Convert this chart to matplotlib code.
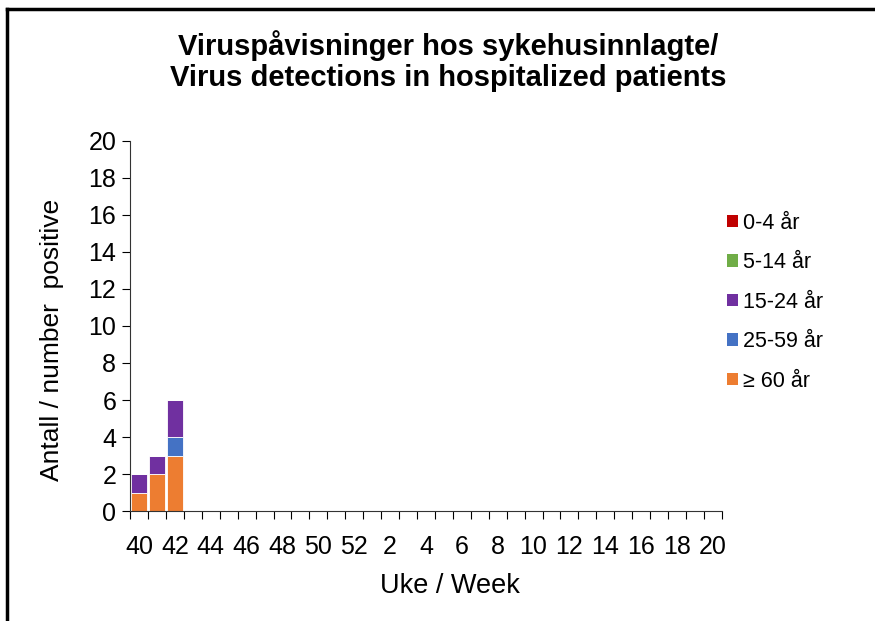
import numpy as np
from matplotlib import pyplot as plt
from matplotlib.lines import Line2D
from matplotlib.patches import Patch

plt.rcParams['font.family'] = ['Liberation Sans', 'DejaVu Sans']

weeks = list(range(40, 53)) + list(range(1, 21))
age_groups = ['0-4 år', '5-14 år', '15-24 år', '25-59 år', '≥ 60 år']
colors = ['#C00000', '#70AD47', '#7030A0', '#4472C4', '#ED7D31']

n = len(weeks)
age_0_4 = [0] * n
age_5_14 = [0] * n
age_15_24 = [1, 1, 2] + [0] * (n - 3)
age_25_59 = [0, 0, 1] + [0] * (n - 3)
age_60 = [1, 2, 3] + [0] * (n - 3)

series = [age_0_4, age_5_14, age_15_24, age_25_59, age_60]

fig = plt.figure(figsize=(8.75, 6.21), dpi=100)
ax = fig.add_axes([0.1486, 0.1771, 0.6764, 0.5959])

x = np.arange(n)
bottom = np.zeros(n)
# stack from the bottom: oldest group first
for vals, col in zip(series[::-1], colors[::-1]):
    vals = np.array(vals)
    ax.bar(x, vals, width=0.9, bottom=bottom, color=col, edgecolor='white', linewidth=0.6)
    bottom += vals

ax.set_xlim(-0.5, n - 0.5)
ax.set_ylim(0, 20)
ax.set_yticks(range(0, 21, 2))
ax.tick_params(axis='y', labelsize=18, length=6, direction='out', pad=4)

# tick marks between categories, labels on every second week
ax.set_xticks(np.arange(-0.5, n, 1))
ax.set_xticklabels([])
ax.set_xticks(x[::2], [str(w) for w in weeks[::2]], minor=True)
ax.tick_params(axis='x', which='major', length=6, direction='out')
ax.tick_params(axis='x', which='minor', length=0, labelsize=18, pad=17)

for s in ['top', 'right']:
    ax.spines[s].set_visible(False)
for s in ['left', 'bottom']:
    ax.spines[s].set_color('#333333')

ax.set_ylabel('Antall / number  positive', fontsize=19)
ax.yaxis.set_label_coords(-0.111, 0.462)
ax.set_xlabel('Uke / Week', fontsize=19.5)
ax.xaxis.set_label_coords(0.5405, -0.168)

fig.text(0.512, 0.902, 'Viruspåvisninger hos sykehusinnlagte/\nVirus detections in hospitalized patients',
         ha='center', va='center', fontsize=21, fontweight='bold', linespacing=1.12)

handles = [Patch(facecolor=c, edgecolor='none') for c in colors]
fig.legend(handles, age_groups, loc='upper left', bbox_to_anchor=(0.809, 0.689),
           frameon=False, fontsize=15.5, handlelength=0.5, handleheight=0.5,
           handletextpad=0.25, labelspacing=0.86)

# frame around the picture
fig.add_artist(Line2D([0.008, 1.0], [0.986, 0.986], transform=fig.transFigure, color='black', lw=2.5))
fig.add_artist(Line2D([0.008, 0.008], [0.0, 0.986], transform=fig.transFigure, color='black', lw=2.5))

fig.savefig('out.png', dpi=100)
